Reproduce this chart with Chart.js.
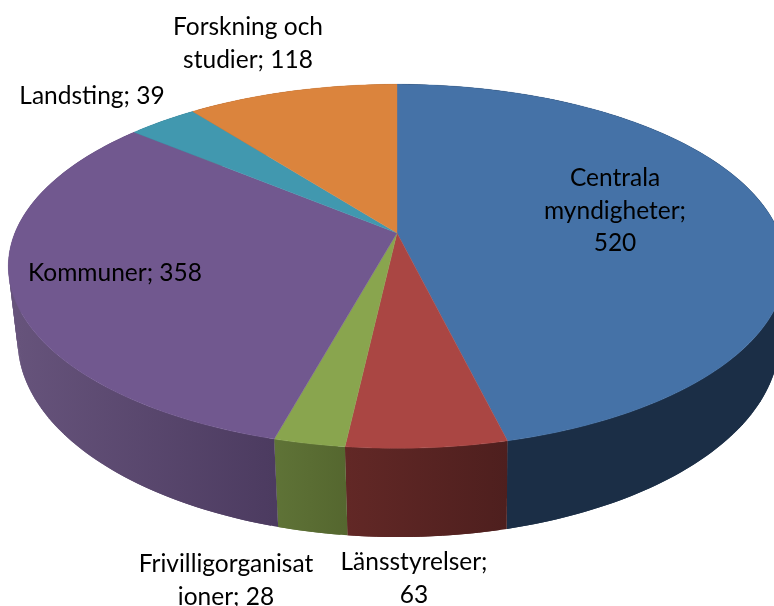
<!DOCTYPE html>
<html><head><meta charset="utf-8">
<style>html,body{margin:0;padding:0;background:#fff}canvas{display:block}</style>
<script src="https://cdn.jsdelivr.net/npm/chart.js@4"></script>
</head><body><canvas id="c" width="774" height="606"></canvas>
<script>
const categories = ["Centrala myndigheter","Länsstyrelser","Frivilligorganisationer","Kommuner","Landsting","Forskning och studier"];
const values = [520,63,28,358,39,118];
const topColors = ["#4572A7","#AA4643","#89A54E","#71588F","#4198AF","#DB843D"];
const wallFrom = ["#1B2E46","#622826","#5F7337","#67547C","#2F6F80","#A05F2B"];
const wallTo   = ["#1B2E46","#4E1F1E","#55672F","#4C3B60","#2F6F80","#A05F2B"];
const labelCentres = [[615,178],[414,562],[226,564],[115,273],[92,96],[248,27]];
const labelWrap = [165,165,178,300,300,165];
const LINE = 32.7, FONT = '24.5px Lato';

const k = 0.183, ax = 1.64, by = 0.755, sx = 0.98, sy = 1.082, dep = 0.305, shift = 1.5;
function proj(a, el){
  const u=Math.cos(a), v=Math.sin(a), w=1-k*v, r=el.outerRadius;
  return [ax*r*u/w, by*r*v/w];
}
function topPt(a, el){const p=proj(a,el);return [el.x+p[0],el.y+p[1]];}
function lowPt(a, el){const p=proj(a,el);return [el.x+shift+sx*p[0],el.y+dep*el.outerRadius+sy*p[1]];}

function wrap(ctx,text,max){
  const out=[];let line='';
  for(const word of text.split(' ')){
    const t=line?line+' '+word:word;
    if(ctx.measureText(t).width<=max){line=t;continue;}
    if(line)out.push(line);
    let w=word;
    while(ctx.measureText(w).width>max){
      let n=w.length;while(n>1&&ctx.measureText(w.slice(0,n)).width>max)n--;
      out.push(w.slice(0,n));w=w.slice(n);
    }
    line=w;
  }
  if(line)out.push(line);
  return out;
}

const pie3d = {
  id:'pie3d',
  beforeDatasetsDraw(chart){
    const ctx=chart.ctx, arcs=chart.getDatasetMeta(0).data;
    ctx.save();
    // side walls: overlapping quads so no seams show, and the outline follows the rim
    arcs.forEach((el,i)=>{
      const n=Math.max(8,Math.ceil((el.endAngle-el.startAngle)*60));
      const angles=[];
      for(let j=0;j<=n;j++){angles.push(el.startAngle+(el.endAngle-el.startAngle)*j/n);}
      const xs=angles.map(a=>topPt(a,el)[0]);
      const g=ctx.createLinearGradient(Math.max(...xs),0,Math.min(...xs),0);
      g.addColorStop(0,wallTo[i]);g.addColorStop(1,wallFrom[i]);
      ctx.fillStyle=g;
      for(let j=0;j<n;j++){
        const e=Math.min(j+2,n);
        const a=topPt(angles[j],el),b=topPt(angles[e],el),c=lowPt(angles[e],el),d=lowPt(angles[j],el);
        ctx.beginPath();ctx.moveTo(a[0],a[1]);ctx.lineTo(b[0],b[1]);ctx.lineTo(c[0],c[1]);ctx.lineTo(d[0],d[1]);ctx.closePath();
        ctx.fill();
      }
    });
    // top face
    arcs.forEach((el,i)=>{
      const n=Math.max(8,Math.ceil((el.endAngle-el.startAngle)*80));
      ctx.beginPath();ctx.moveTo(el.x,el.y);
      for(let j=0;j<=n;j++){
        const p=topPt(el.startAngle+(el.endAngle-el.startAngle)*j/n,el);
        ctx.lineTo(p[0],p[1]);
      }
      ctx.closePath();
      ctx.fillStyle=topColors[i];ctx.fill();
      ctx.strokeStyle=topColors[i];ctx.lineWidth=0.4;ctx.stroke();
    });
    ctx.restore();
    return false;
  },
  afterDraw(chart){
    const ctx=chart.ctx;
    ctx.save();
    ctx.font=FONT;ctx.fillStyle='#000';ctx.textAlign='center';ctx.textBaseline='middle';
    categories.forEach((c,i)=>{
      const lines=wrap(ctx,c+'; '+values[i],labelWrap[i]);
      lines.forEach((t,j)=>ctx.fillText(t,labelCentres[i][0],labelCentres[i][1]+j*LINE));
    });
    ctx.restore();
  }
};

new Chart(document.getElementById('c'),{
  type:'pie',
  data:{labels:categories,datasets:[{data:values,backgroundColor:topColors,borderWidth:0}]},
  options:{
    responsive:false,animation:false,
    layout:{padding:{left:20,right:0,top:0,bottom:140}},
    plugins:{legend:{display:false},tooltip:{enabled:false}}
  },
  plugins:[pie3d]
});
</script></body></html>
